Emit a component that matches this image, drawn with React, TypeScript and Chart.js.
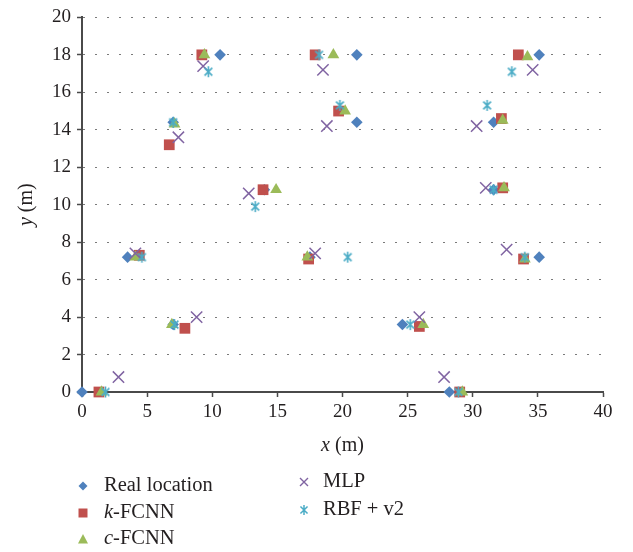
import React, { useEffect, useRef } from 'react';
import { Chart, registerables } from 'chart.js';

Chart.register(...registerables);

// ---- data ----
const realLocation: [number, number][] = [
  [0, 0], [3.5, 7.2], [7, 3.6], [7, 14.4], [10.6, 18], [14, 10.8], [17.5, 7.2], [21.1, 14.4],
  [21.1, 18], [24.6, 3.6], [28.2, 0], [31.6, 10.8], [31.6, 14.4], [35.1, 18], [35.1, 7.2],
];
const kFCNN: [number, number][] = [
  [1.3, 0], [4.4, 7.3], [7.9, 3.4], [6.7, 13.2], [9.2, 18], [17.9, 18], [19.7, 15], [13.9, 10.8],
  [17.4, 7.1], [25.9, 3.5], [29.0, 0], [33.9, 7.1], [32.2, 14.6], [33.5, 18], [32.3, 10.9],
];
const cFCNN: [number, number][] = [
  [1.5, 0], [4.1, 7.2], [6.9, 3.6], [7.1, 14.3], [9.4, 18], [19.3, 18], [20.2, 15], [14.9, 10.8],
  [17.3, 7.2], [26.2, 3.6], [29.2, 0], [34, 7.1], [32.3, 14.5], [34.2, 17.9], [32.4, 10.9],
];
const mlp: [number, number][] = [
  [2.8, 0.8], [4.1, 7.4], [8.8, 4], [7.4, 13.6], [9.3, 17.4], [18.5, 17.2], [18.8, 14.2], [12.8, 10.6],
  [17.9, 7.4], [25.9, 4], [27.8, 0.8], [32.6, 7.6], [30.3, 14.2], [34.6, 17.2], [31, 10.9],
];
const rbfV2: [number, number][] = [
  [1.8, 0], [4.6, 7.2], [7.1, 3.6], [7, 14.4], [9.7, 17.1], [18.2, 18], [19.8, 15.3], [13.3, 9.9],
  [20.4, 7.2], [25.2, 3.6], [28.9, 0], [34, 7.2], [31.1, 15.3], [33, 17.1], [31.6, 10.8],
];

const xTitle = ['x', ' (m)'];
const yTitle = ['y', ' (m)'];
const legendItems = [
  { parts: [['Real location', false]], style: 'diamond', color: '#4F81BD' },
  { parts: [['k', true], ['-FCNN', false]], style: 'square', color: '#C0504D' },
  { parts: [['c', true], ['-FCNN', false]], style: 'triangle', color: '#9BBB59' },
  { parts: [['MLP', false]], style: 'cross', color: '#8064A2' },
  { parts: [['RBF + v2', false]], style: 'star', color: '#4BACC6' },
];

const FONT = '"Liberation Serif", "Times New Roman", serif';
const TEXT = '#231F20';
const AXIS = '#4A4A4A';

function makeStar(size: number, color: string, lw: number): HTMLCanvasElement {
  const c = document.createElement('canvas');
  c.width = size;
  c.height = size;
  const ctx = c.getContext('2d')!;
  ctx.strokeStyle = color;
  ctx.lineWidth = lw;
  const cx = size / 2;
  const r = size / 2 - 1;
  const d = r * Math.SQRT1_2;
  ctx.beginPath();
  ctx.moveTo(cx, cx - r);
  ctx.lineTo(cx, cx + r);
  ctx.moveTo(cx - d, cx - d);
  ctx.lineTo(cx + d, cx + d);
  ctx.moveTo(cx - d, cx + d);
  ctx.lineTo(cx + d, cx - d);
  ctx.stroke();
  return c;
}

function drawMarker(ctx: CanvasRenderingContext2D, style: string, color: string, x: number, y: number) {
  ctx.save();
  ctx.fillStyle = color;
  ctx.strokeStyle = color;
  ctx.beginPath();
  if (style === 'diamond') {
    const r = 4.5;
    ctx.moveTo(x, y - r); ctx.lineTo(x + r, y); ctx.lineTo(x, y + r); ctx.lineTo(x - r, y); ctx.closePath();
    ctx.fill();
  } else if (style === 'square') {
    ctx.rect(x - 4.5, y - 4.5, 9, 9);
    ctx.fill();
  } else if (style === 'triangle') {
    ctx.moveTo(x, y - 5); ctx.lineTo(x + 5, y + 4.5); ctx.lineTo(x - 5, y + 4.5); ctx.closePath();
    ctx.fill();
  } else if (style === 'cross') {
    const r = 4;
    ctx.lineWidth = 1.4;
    ctx.moveTo(x - r, y - r); ctx.lineTo(x + r, y + r);
    ctx.moveTo(x - r, y + r); ctx.lineTo(x + r, y - r);
    ctx.stroke();
  } else if (style === 'star') {
    const r = 5; const d = r * Math.SQRT1_2;
    ctx.lineWidth = 1.5;
    ctx.moveTo(x, y - r); ctx.lineTo(x, y + r);
    ctx.moveTo(x - d, y - d); ctx.lineTo(x + d, y + d);
    ctx.moveTo(x - d, y + d); ctx.lineTo(x + d, y - d);
    ctx.stroke();
  }
  ctx.restore();
}

function drawParts(ctx: CanvasRenderingContext2D, parts: any[], x: number, y: number, size: number, align: 'left' | 'center') {
  const fonts = parts.map((p) => `${p[1] ? 'italic ' : ''}${size}px ${FONT}`);
  let total = 0;
  const widths = parts.map((p, i) => { ctx.font = fonts[i]; const w = ctx.measureText(p[0]).width; total += w; return w; });
  let cx = align === 'center' ? x - total / 2 : x;
  ctx.textAlign = 'left';
  ctx.textBaseline = 'middle';
  ctx.fillStyle = TEXT;
  parts.forEach((p, i) => { ctx.font = fonts[i]; ctx.fillText(p[0], cx, y); cx += widths[i]; });
}

const overlayPlugin = {
  id: 'overlay',
  afterDraw(chart: any) {
    const ctx: CanvasRenderingContext2D = chart.ctx;
    const area = chart.chartArea;
    ctx.save();
    // x title
    drawParts(ctx, [[xTitle[0], true], [xTitle[1], false]], (area.left + area.right) / 2, 446, 20, 'center');
    // y title
    ctx.save();
    ctx.translate(27, (area.top + area.bottom) / 2);
    ctx.rotate(-Math.PI / 2);
    drawParts(ctx, [[yTitle[0], true], [yTitle[1], false]], 0, 0, 20, 'center');
    ctx.restore();
    // legend
    const pos = [
      [83, 486], [83, 513], [83, 539],
      [304, 482], [304, 510],
    ];
    legendItems.forEach((it, i) => {
      const [mx, my] = pos[i];
      drawMarker(ctx, it.style, it.color, mx, my);
      drawParts(ctx, it.parts, i < 3 ? 104 : 323, my, 20.5, 'left');
    });
    ctx.restore();
  },
};

export default function App() {
  const ref = useRef<HTMLCanvasElement | null>(null);
  useEffect(() => {
    if (!ref.current) return;
    const star = makeStar(13, '#4BACC6', 1.6);
    const toPts = (a: [number, number][]) => a.map(([x, y]) => ({ x, y }));
    const chart = new Chart(ref.current, {
      type: 'scatter',
      data: {
        datasets: [
          { label: 'Real location', data: toPts(realLocation), pointStyle: 'rectRot', pointRadius: 5.8, backgroundColor: '#4F81BD', borderColor: '#4F81BD', borderWidth: 0, order: 5, clip: false },
          { label: 'k-FCNN', data: toPts(kFCNN), pointStyle: 'rect', pointRadius: 7.6, backgroundColor: '#C0504D', borderColor: '#C0504D', borderWidth: 0, order: 4, clip: false },
          { label: 'c-FCNN', data: toPts(cFCNN), pointStyle: 'triangle', pointRadius: 6.8, backgroundColor: '#9BBB59', borderColor: '#9BBB59', borderWidth: 0, order: 3, clip: false },
          { label: 'MLP', data: toPts(mlp), pointStyle: 'crossRot', pointRadius: 8, backgroundColor: '#8064A2', borderColor: '#8064A2', borderWidth: 1.5, order: 2, clip: false },
          { label: 'RBF + v2', data: toPts(rbfV2), pointStyle: star as any, pointRadius: 7, backgroundColor: '#4BACC6', borderColor: '#4BACC6', borderWidth: 1.5, order: 1, clip: false },
        ] as any,
      },
      options: {
        animation: false,
        responsive: false,
        maintainAspectRatio: false,
        layout: { padding: { left: 0, top: 11, right: 30, bottom: 100 } },
        plugins: { legend: { display: false }, tooltip: { enabled: false } },
        scales: {
          x: {
            type: 'linear',
            min: 0,
            max: 40,
            ticks: { stepSize: 5, color: TEXT, font: { family: FONT, size: 19 }, padding: 4, maxRotation: 0 },
            grid: { drawOnChartArea: false, drawTicks: true, tickLength: 5, tickColor: AXIS, tickWidth: 1.5 },
            border: { display: true, color: AXIS, width: 2 },
            afterFit: (s: any) => { s.height = 60; },
          },
          y: {
            type: 'linear',
            min: 0,
            max: 20,
            ticks: { stepSize: 2, color: TEXT, font: { family: FONT, size: 19 }, padding: 6 },
            grid: { drawOnChartArea: true, color: '#7A7A7A', lineWidth: 1, drawTicks: true, tickLength: 5, tickColor: AXIS, tickWidth: 1.5 },
            border: { display: true, color: AXIS, width: 2, dash: [2, 10] },
            afterFit: (s: any) => { s.width = 82; },
          },
        },
      } as any,
      plugins: [overlayPlugin],
    });
    return () => chart.destroy();
  }, []);
  return (
    <div style={{ position: 'fixed', left: 0, top: 0, width: 633, height: 552, background: '#fff' }}>
      <canvas ref={ref} width={633} height={552} style={{ width: 633, height: 552, display: 'block' }} />
    </div>
  );
}
